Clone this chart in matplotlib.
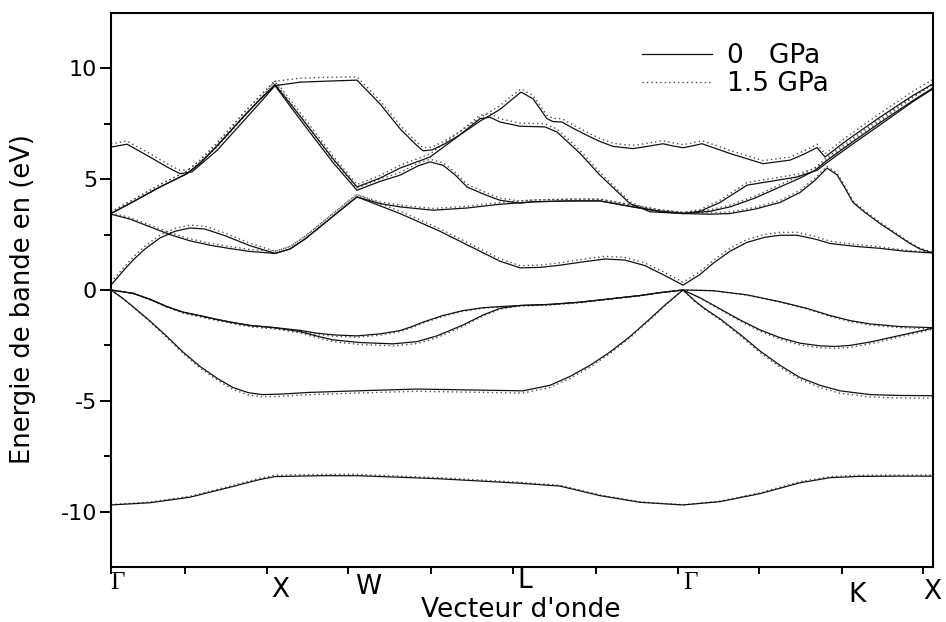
import matplotlib
matplotlib.use("Agg")
import matplotlib.pyplot as plt
from matplotlib.lines import Line2D

plt.rcParams['font.family'] = ['DejaVu Sans']
plt.rcParams['axes.unicode_minus'] = False

# ---- data: each band is a list of (k, E at 0 GPa, E at 1.5 GPa) ----
band_s = [(0.00,-9.70,-9.68),(0.39,-9.60,-9.57),(0.79,-9.35,-9.31),(1.19,-8.90,-8.85),(1.49,-8.55,-8.49),
          (1.64,-8.42,-8.36),(2.09,-8.38,-8.32),(2.46,-8.38,-8.32),(2.89,-8.45,-8.40),(3.29,-8.52,-8.47),
          (3.69,-8.62,-8.57),(4.09,-8.72,-8.68),(4.49,-8.85,-8.81),(4.89,-9.28,-9.25),(5.29,-9.58,-9.56),
          (5.72,-9.70,-9.69),(6.09,-9.55,-9.53),(6.49,-9.19,-9.15),(6.89,-8.70,-8.65),(7.19,-8.47,-8.42),
          (7.49,-8.41,-8.36),(7.89,-8.40,-8.35),(8.22,-8.40,-8.35)]

band_v2 = [(0.00,0.00,0.00),(0.11,-0.35,-0.36),(0.22,-0.75,-0.77),(0.39,-1.40,-1.43),(0.56,-2.10,-2.15),
           (0.72,-2.80,-2.86),(0.89,-3.45,-3.52),(1.06,-3.98,-4.06),(1.22,-4.40,-4.49),(1.37,-4.63,-4.73),
           (1.51,-4.72,-4.82),(1.69,-4.70,-4.80),(1.99,-4.62,-4.72),(2.46,-4.55,-4.65),(3.06,-4.47,-4.57),
           (3.72,-4.52,-4.62),(4.12,-4.55,-4.65),(4.39,-4.30,-4.40),(4.59,-3.90,-3.99),(4.79,-3.40,-3.48),
           (4.99,-2.80,-2.87),(5.19,-2.10,-2.15),(5.39,-1.30,-1.34),(5.56,-0.60,-0.62),(5.72,0.00,0.00),
           (5.84,-0.50,-0.52),(5.94,-0.85,-0.88),(6.09,-1.30,-1.34),(6.29,-2.00,-2.05),(6.49,-2.75,-2.82),
           (6.69,-3.40,-3.48),(6.89,-3.95,-4.04),(7.09,-4.30,-4.40),(7.29,-4.55,-4.66),(7.59,-4.72,-4.83),
           (7.89,-4.76,-4.87),(8.22,-4.77,-4.88)]

band_hh1 = [(0.00,0.00,0.00),(0.22,-0.15,-0.15),(0.39,-0.42,-0.43),(0.56,-0.75,-0.77),(0.72,-1.00,-1.03),
            (0.89,-1.16,-1.20),(1.06,-1.33,-1.37),(1.22,-1.47,-1.51),(1.39,-1.60,-1.65),(1.64,-1.70,-1.75),
            (1.89,-1.82,-1.87),(2.06,-1.95,-2.01),(2.24,-2.03,-2.09),(2.46,-2.07,-2.13),(2.69,-1.98,-2.04),
            (2.89,-1.83,-1.88),(3.01,-1.65,-1.70),(3.12,-1.45,-1.49),(3.32,-1.15,-1.19),(3.52,-0.93,-0.96),
            (3.72,-0.80,-0.82),(3.89,-0.75,-0.77),(4.09,-0.70,-0.72),(4.39,-0.65,-0.67),(4.69,-0.55,-0.57),
            (4.99,-0.40,-0.41),(5.29,-0.25,-0.26),(5.49,-0.12,-0.12),(5.72,0.00,0.00),(6.02,-0.03,-0.03),
            (6.36,-0.22,-0.23),(6.69,-0.53,-0.55),(6.96,-0.83,-0.86),(7.19,-1.15,-1.19),(7.39,-1.38,-1.42),
            (7.59,-1.53,-1.58),(7.89,-1.65,-1.70),(8.22,-1.70,-1.75)]

band_hh2 = [(0.00,0.00,0.00),(0.22,-0.15,-0.15),(0.39,-0.42,-0.43),(0.56,-0.75,-0.77),(0.72,-1.00,-1.03),
            (0.89,-1.16,-1.20),(1.06,-1.33,-1.37),(1.22,-1.47,-1.51),(1.39,-1.60,-1.65),(1.64,-1.70,-1.75),
            (1.89,-1.88,-1.94),(2.06,-2.08,-2.15),(2.22,-2.25,-2.33),(2.49,-2.37,-2.46),(2.82,-2.43,-2.52),
            (3.06,-2.33,-2.42),(3.26,-2.07,-2.15),(3.52,-1.58,-1.64),(3.72,-1.13,-1.17),(3.89,-0.83,-0.86),
            (4.09,-0.70,-0.72),(4.39,-0.65,-0.67),(4.69,-0.55,-0.57),(4.99,-0.40,-0.41),(5.29,-0.25,-0.26),
            (5.49,-0.12,-0.12),(5.72,0.00,0.00),(5.89,-0.35,-0.36),(6.09,-0.85,-0.88),(6.29,-1.35,-1.40),
            (6.49,-1.80,-1.86),(6.69,-2.15,-2.22),(6.89,-2.40,-2.48),(7.09,-2.52,-2.61),(7.24,-2.55,-2.64),
            (7.39,-2.50,-2.59),(7.59,-2.35,-2.43),(7.79,-2.15,-2.22),(7.99,-1.95,-2.01),(8.22,-1.72,-1.77)]

band_c1 = [(0.00,0.22,0.35),(0.11,0.80,0.92),(0.22,1.35,1.48),(0.34,1.85,1.98),(0.49,2.35,2.48),
           (0.64,2.65,2.78),(0.79,2.80,2.93),(0.94,2.75,2.88),(1.14,2.45,2.57),(1.39,2.00,2.11),
           (1.64,1.65,1.75),(1.79,1.85,1.96),(1.94,2.30,2.42),(2.09,2.85,2.97),(2.24,3.40,3.52),
           (2.39,3.95,4.07),(2.46,4.20,4.30),(2.69,3.80,3.90),(2.89,3.45,3.56),(3.09,3.05,3.16),
           (3.29,2.65,2.76),(3.49,2.20,2.31),(3.69,1.75,1.86),(3.89,1.30,1.41),(4.09,1.00,1.10),
           (4.29,1.02,1.12),(4.49,1.12,1.23),(4.69,1.25,1.37),(4.94,1.40,1.52),(5.14,1.35,1.47),
           (5.34,1.10,1.22),(5.54,0.65,0.78),(5.72,0.22,0.35),(5.89,0.70,0.83),(6.02,1.20,1.33),
           (6.19,1.75,1.88),(6.36,2.15,2.28),(6.54,2.38,2.51),(6.69,2.47,2.60),(6.86,2.47,2.60),
           (7.04,2.30,2.42),(7.19,2.10,2.20),(7.44,1.97,2.06),(7.69,1.88,1.95),(7.94,1.75,1.80),
           (8.22,1.67,1.70)]

band_c2 = [(0.00,3.42,3.48),(0.19,3.20,3.27),(0.39,2.85,2.93),(0.59,2.50,2.59),(0.79,2.22,2.31),
           (0.99,2.02,2.11),(1.19,1.87,1.96),(1.39,1.74,1.83),(1.64,1.65,1.75),(1.79,1.85,1.96),
           (1.94,2.30,2.42),(2.09,2.85,2.97),(2.24,3.40,3.52),(2.39,3.95,4.07),(2.46,4.20,4.30),
           (2.69,3.90,3.98),(2.89,3.75,3.83),(3.22,3.60,3.68),(3.56,3.70,3.78),(3.89,3.87,3.95),
           (4.22,3.98,4.06),(4.59,4.02,4.10),(4.89,4.02,4.10),(5.22,3.75,3.83),(5.49,3.55,3.62),
           (5.72,3.45,3.50),(5.99,3.42,3.48),(6.19,3.45,3.52),(6.44,3.65,3.73),(6.69,3.95,4.04),
           (6.89,4.40,4.50),(7.04,4.95,5.05),(7.16,5.50,5.58),(7.26,5.20,5.28),(7.34,4.60,4.68),
           (7.42,3.95,4.02),(7.54,3.50,3.56),(7.69,3.00,3.06),(7.84,2.55,2.60),(7.99,2.10,2.14),
           (8.09,1.85,1.89),(8.22,1.67,1.70)]

band_c3 = [(0.00,3.45,3.52),(0.22,3.98,4.07),(0.49,4.65,4.76),(0.76,5.25,5.37),(0.89,5.72,5.85),
           (1.06,6.50,6.63),(1.32,7.80,7.95),(1.49,8.60,8.76),(1.64,9.22,9.40),(1.89,7.70,7.85),
           (2.22,5.75,5.88),(2.46,4.50,4.60),(2.69,4.90,5.01),(2.89,5.18,5.30),(3.07,5.60,5.72),
           (3.19,5.78,5.90),(3.32,5.63,5.75),(3.44,5.20,5.32),(3.56,4.65,4.77),(3.74,4.30,4.41),
           (3.89,4.05,4.15),(4.09,3.92,4.01),(4.22,3.98,4.06),(4.59,4.02,4.10),(4.89,4.02,4.10),
           (5.22,3.75,3.83),(5.49,3.55,3.62),(5.72,3.45,3.50),(5.99,3.55,3.62),(6.19,3.75,3.83),
           (6.44,4.15,4.24),(6.69,4.65,4.75),(6.89,5.05,5.16),(7.04,5.40,5.52),(7.16,5.85,5.98),
           (7.39,6.60,6.75),(7.69,7.55,7.72),(8.02,8.55,8.74),(8.22,9.12,9.32)]

band_c4 = [(0.00,3.45,3.52),(0.22,3.98,4.07),(0.49,4.65,4.76),(0.76,5.25,5.37),(0.89,5.72,5.85),
           (1.06,6.50,6.63),(1.32,7.80,7.95),(1.49,8.60,8.76),(1.64,9.28,9.46),(1.89,7.85,8.01),
           (2.22,5.92,6.05),(2.46,4.65,4.76),(2.69,5.05,5.17),(2.89,5.50,5.63),(3.19,6.00,6.14),
           (3.46,6.90,7.05),(3.69,7.73,7.88),(3.79,7.80,7.95),(3.89,7.58,7.73),(4.09,7.39,7.53),
           (4.34,7.36,7.50),(4.46,7.13,7.27),(4.69,6.17,6.30),(4.89,5.18,5.30),(5.19,3.90,3.98),
           (5.39,3.53,3.60),(5.72,3.45,3.50),(5.89,3.55,3.63),(6.09,3.95,4.05),(6.36,4.73,4.85),
           (6.59,4.90,5.02),(6.86,5.10,5.22),(7.06,5.40,5.53),(7.16,5.75,5.88),(7.39,6.50,6.65),
           (7.69,7.45,7.62),(8.02,8.50,8.69),(8.22,9.08,9.28)]

band_c5 = [(0.00,6.45,6.60),(0.16,6.58,6.72),(0.39,6.00,6.15),(0.56,5.55,5.70),(0.69,5.25,5.40),
           (0.81,5.33,5.45),(1.06,6.30,6.45),(1.32,7.60,7.76),(1.49,8.45,8.63),(1.64,9.22,9.42),
           (1.89,9.38,9.56),(2.19,9.43,9.60),(2.46,9.47,9.62),(2.69,8.40,8.55),(2.89,7.28,7.44),
           (3.04,6.60,6.75),(3.12,6.28,6.42),(3.21,6.32,6.45),(3.34,6.60,6.74),(3.49,7.00,7.15),
           (3.69,7.62,7.78),(3.79,7.88,8.04),(3.89,8.15,8.32),(4.01,8.60,8.77),(4.10,8.93,9.08),
           (4.22,8.63,8.78),(4.36,7.73,7.88),(4.42,7.60,7.75),(4.51,7.58,7.73),(4.62,7.30,7.45),
           (4.76,6.98,7.12),(4.89,6.70,6.84),(5.02,6.48,6.62),(5.22,6.38,6.52),(5.39,6.50,6.64),
           (5.52,6.60,6.74),(5.62,6.50,6.64),(5.72,6.42,6.56),(5.81,6.50,6.64),(5.91,6.60,6.74),
           (6.19,6.16,6.30),(6.52,5.70,5.84),(6.79,5.86,6.00),(6.94,6.15,6.30),(7.06,6.43,6.58),
           (7.14,6.00,6.14),(7.36,6.76,6.92),(7.69,7.80,7.97),(8.02,8.78,8.97),(8.22,9.30,9.50)]

bands = [band_s, band_v2, band_hh1, band_hh2, band_c1, band_c2, band_c3, band_c4, band_c5]

tick_k = [0.0, 0.74, 1.56, 2.37, 3.20, 4.02, 4.85, 5.67, 6.48, 7.31, 8.12]
sym_labels = ["\u0393", "X", "W", "L", "\u0393", "K", "X"]
sym_label_k = [0.06, 1.69, 2.57, 4.14, 5.79, 7.46, 8.21]
sym_label_y = [-0.028, -0.041, -0.036, -0.026, -0.028, -0.050, -0.045]
legend_labels = ["0   GPa", "1.5 GPa"]

# ---- figure ----
fig = plt.figure(figsize=(9.46, 6.22), dpi=100)
ax = fig.add_axes([111/946, 55/622, 822/946, 554/622])

for b in bands:
    k = [p[0] for p in b]
    e15 = [p[2] for p in b]
    ax.plot(k, e15, color='0.3', lw=1.0, linestyle=(0, (1, 2.2)))
for b in bands:
    k = [p[0] for p in b]
    e0 = [p[1] for p in b]
    ax.plot(k, e0, color='#111111', lw=0.9)

ax.set_xlim(0, 8.22)
ax.set_ylim(-12.5, 12.5)
ax.set_xticks(tick_k)
ax.set_xticklabels([])
ax.set_yticks([-10, -5, 0, 5, 10])
ax.set_yticks([-7.5, -2.5, 2.5, 7.5], minor=True)
ax.tick_params(axis='y', which='major', direction='out', length=8, width=1.4, labelsize=16, pad=2)
ax.tick_params(axis='y', which='minor', direction='out', length=5, width=1.4)
ax.tick_params(axis='x', which='major', direction='out', length=5, width=1.4)
for s in ax.spines.values():
    s.set_linewidth(1.5)

for lab, kx, yy in zip(sym_labels, sym_label_k, sym_label_y):
    if lab == "\u0393":
        ax.text(kx, yy, lab, transform=ax.get_xaxis_transform(), ha='center', va='center',
                fontsize=18, family='Liberation Serif')
    else:
        ax.text(kx, yy, lab, transform=ax.get_xaxis_transform(), ha='center', va='center',
                fontsize=19)

ax.set_xlabel("Vecteur d'onde", fontsize=19)
ax.xaxis.set_label_coords(0.499, -0.054)
ax.set_ylabel("Energie de bande en (eV)", fontsize=18.5)
ax.yaxis.set_label_coords(-0.091, 0.484)

handles = [Line2D([], [], color='#111111', lw=0.9),
           Line2D([], [], color='0.3', lw=1.0, linestyle=(0, (1, 2.2)))]
ax.legend(handles, legend_labels, loc='upper left', bbox_to_anchor=(0.646, 0.946),
          frameon=False, fontsize=19, borderpad=0, borderaxespad=0,
          handlelength=2.65, handletextpad=0.57, labelspacing=0.08)

fig.savefig("out.png", dpi=100)
